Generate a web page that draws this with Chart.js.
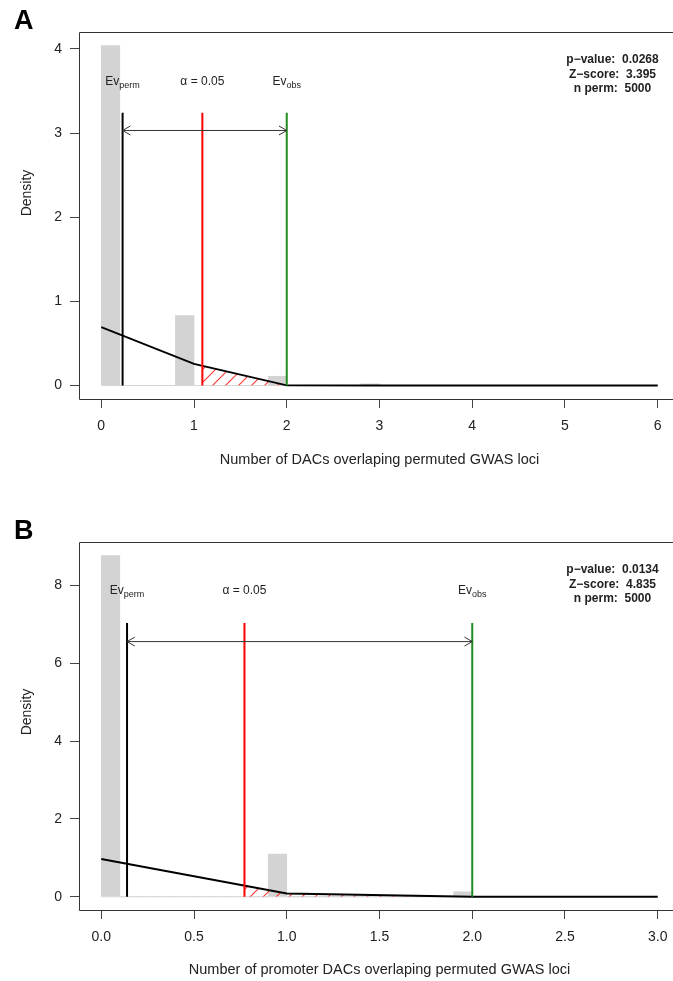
<!DOCTYPE html>
<html><head><meta charset="utf-8">
<script src="https://cdn.jsdelivr.net/npm/chart.js@4.4.1/dist/chart.umd.min.js"></script>
<style>
html,body{margin:0;padding:0;background:#fff;overflow:hidden;width:673px;height:981px;position:relative;}
canvas{position:absolute;left:0;}
#cA{top:0px;} #cB{top:510px;}
</style></head><body>
<canvas id="cA" width="690" height="471" style="width:690px;height:471px"></canvas>
<canvas id="cB" width="690" height="471" style="width:690px;height:471px"></canvas>
<script>
// ---------- Panel A data ----------
const panelLetterA = 'A';
const histStartA = 0;
const binWidthA = 0.2;
const histDensityA = [4.04, 0, 0, 0, 0.83, 0, 0, 0, 0, 0.11, 0, 0, 0, 0, 0.02];
const densityXA = [0, 1, 2, 3, 4, 5, 6];
const densityYA = [0.694, 0.257, 0.002, 0, 0, 0, 0];
const evPermA = 0.23;
const alphaA = 1.09;
const evObsA = 2;
const statsA = ['p\u2212value:  0.0268', 'Z\u2212score:  3.395', 'n perm:  5000'];
const xTicksA = [0, 1, 2, 3, 4, 5, 6];
const xTickLabelsA = ['0', '1', '2', '3', '4', '5', '6'];
const yTicksA = [0, 1, 2, 3, 4];
const yTickLabelsA = ['0', '1', '2', '3', '4'];
const xTitleA = 'Number of DACs overlaping permuted GWAS loci';

// ---------- Panel B data ----------
const panelLetterB = 'B';
const histStartB = 0;
const binWidthB = 0.1;
const histDensityB = [8.77, 0, 0, 0, 0, 0, 0, 0, 0, 1.10, 0, 0, 0, 0, 0, 0, 0, 0, 0, 0.13];
const densityXB = [0, 1, 2, 3];
const densityYB = [0.971, 0.085, 0, 0];
const evPermB = 0.139;
const alphaB = 0.772;
const evObsB = 2;
const statsB = ['p\u2212value:  0.0134', 'Z\u2212score:  4.835', 'n perm:  5000'];
const xTicksB = [0, 0.5, 1, 1.5, 2, 2.5, 3];
const xTickLabelsB = ['0.0', '0.5', '1.0', '1.5', '2.0', '2.5', '3.0'];
const yTicksB = [0, 2, 4, 6, 8];
const yTickLabelsB = ['0', '2', '4', '6', '8'];
const xTitleB = 'Number of promoter DACs overlaping permuted GWAS loci';

const FONT = "'Liberation Sans', Arial, Helvetica, sans-serif";
Chart.defaults.font.family = FONT;
Chart.defaults.color = '#222';

function makeHatch(ctx) {
  const c = document.createElement('canvas');
  c.width = 13; c.height = 13;
  const g = c.getContext('2d');
  g.strokeStyle = 'rgba(255,0,0,0.8)';
  g.lineWidth = 1.1;
  g.beginPath();
  g.moveTo(0, 13); g.lineTo(13, 0);
  g.moveTo(-3, 3); g.lineTo(3, -3);
  g.moveTo(10, 16); g.lineTo(16, 10);
  g.stroke();
  return ctx.createPattern(c, 'repeat');
}

function buildPanel(id, p) {
  const canvas = document.getElementById(id);
  const ctx = canvas.getContext('2d');
  const hatch = makeHatch(ctx);
  const binCenters = p.hist.map((_, i) => p.histStart + (i + 0.5) * p.binWidth);
  const histEnd = p.histStart + p.hist.length * p.binWidth;
  const lineDefaults = {type: 'line', pointRadius: 0, fill: false, tension: 0, showLine: true};
  const datasets = [
    {type: 'bar', data: p.hist.map((v, i) => ({x: binCenters[i], y: v})),
     backgroundColor: '#d3d3d3', borderWidth: 0, barPercentage: 1, categoryPercentage: 1, order: 10},
    Object.assign({}, lineDefaults, {data: [{x: p.histStart, y: 0}, {x: histEnd, y: 0}],
     borderColor: '#d6d6d6', borderWidth: 1, order: 9}),
    Object.assign({}, lineDefaults, {data: p.densX.map((x, i) => ({x: x, y: p.densY[i]})),
     borderColor: '#000', borderWidth: 1.9, order: 6}),
    Object.assign({}, lineDefaults, {data: [{x: p.evPerm, y: 0}, {x: p.evPerm, y: p.lineTop}],
     borderColor: '#000', borderWidth: 2, order: 5}),
    Object.assign({}, lineDefaults, {data: [{x: p.alpha, y: 0}, {x: p.alpha, y: p.lineTop}],
     borderColor: '#ff0000', borderWidth: 2, order: 5}),
    Object.assign({}, lineDefaults, {data: [{x: p.evObs, y: 0}, {x: p.evObs, y: p.lineTop}],
     borderColor: '#1e8c1e', borderWidth: 2, order: 5}),
    Object.assign({}, lineDefaults, {data: [{x: p.evPerm, y: p.arrowY}, {x: p.evObs, y: p.arrowY}],
     borderColor: '#333', borderWidth: 1, order: 4})
  ];
  const DENS = 2, ARROW = 6;

  const annot = {
    id: 'annot' + id,
    beforeDatasetDraw(chart, args) {
      if (args.index !== DENS) return;
      const c = chart.ctx, xs = chart.scales.x, ys = chart.scales.y, a = chart.chartArea;
      const pts = args.meta.data;
      const y0 = ys.getPixelForValue(0);
      c.save();
      c.beginPath();
      c.rect(xs.getPixelForValue(p.alpha), a.top, xs.getPixelForValue(p.evObs) - xs.getPixelForValue(p.alpha), y0 - a.top);
      c.clip();
      c.beginPath();
      c.moveTo(pts[0].x, y0);
      pts.forEach(pt => c.lineTo(pt.x, pt.y));
      c.lineTo(pts[pts.length - 1].x, y0);
      c.closePath();
      c.fillStyle = hatch;
      c.fill();
      c.restore();
    },
    afterDatasetsDraw(chart) {
      const c = chart.ctx, xs = chart.scales.x, ys = chart.scales.y, a = chart.chartArea;
      c.save();
      // box
      c.strokeStyle = '#333'; c.lineWidth = 1;
      c.beginPath();
      c.moveTo(Math.round(a.right) + 0.5, Math.round(a.top) + 0.5);
      c.lineTo(Math.round(a.left) + 0.5, Math.round(a.top) + 0.5);
      c.lineTo(Math.round(a.left) + 0.5, Math.round(a.bottom) + 0.5);
      c.lineTo(Math.round(a.right) + 0.5, Math.round(a.bottom) + 0.5);
      c.stroke();
      // arrow heads
      const am = chart.getDatasetMeta(ARROW).data;
      const L = 9, ang = Math.PI / 6;
      c.strokeStyle = '#333'; c.lineWidth = 1;
      c.beginPath();
      const xl = am[0].x, xr = am[1].x, ya = am[0].y;
      c.moveTo(xl + L * Math.cos(ang), ya - L * Math.sin(ang)); c.lineTo(xl, ya); c.lineTo(xl + L * Math.cos(ang), ya + L * Math.sin(ang));
      c.moveTo(xr - L * Math.cos(ang), ya - L * Math.sin(ang)); c.lineTo(xr, ya); c.lineTo(xr - L * Math.cos(ang), ya + L * Math.sin(ang));
      c.stroke();
      // labels
      const ly = ys.getPixelForValue(p.labelY) + 4;
      c.fillStyle = '#222';
      function subLabel(main, sub, cx) {
        c.font = '12px ' + FONT;
        const w1 = c.measureText(main).width;
        c.font = '9px ' + FONT;
        const w2 = c.measureText(sub).width;
        const x0 = cx - (w1 + w2) / 2;
        c.textAlign = 'left'; c.textBaseline = 'alphabetic';
        c.font = '12px ' + FONT; c.fillText(main, x0, ly);
        c.font = '9px ' + FONT; c.fillText(sub, x0 + w1, ly + 3);
      }
      subLabel('Ev', 'perm', xs.getPixelForValue(p.evPerm));
      subLabel('Ev', 'obs', xs.getPixelForValue(p.evObs));
      c.font = '12px ' + FONT; c.textAlign = 'center'; c.textBaseline = 'alphabetic';
      c.fillText('\u03b1 = 0.05', xs.getPixelForValue(p.alpha), ly);
      // stats
      c.font = 'bold 12px ' + FONT; c.textAlign = 'center'; c.textBaseline = 'middle';
      p.stats.forEach((s, i) => c.fillText(s, 612.5, 59.5 + i * 14.7));
      // panel letter
      c.font = 'bold 27px ' + FONT; c.textAlign = 'left'; c.textBaseline = 'alphabetic';
      c.fillStyle = '#000';
      c.fillText(p.letter, 14, 29);
      // y title
      c.fillStyle = '#222';
      c.translate(27, p.yTitleCenter); c.rotate(-Math.PI / 2);
      c.font = '14px ' + FONT; c.textAlign = 'center'; c.textBaseline = 'middle';
      c.fillText('Density', 0, 0);
      c.restore();
    }
  };

  return new Chart(ctx, {
    type: 'bar',
    data: {datasets: datasets},
    options: {
      responsive: false, animation: false, devicePixelRatio: 1,
      layout: {padding: {top: 32, right: 10, left: 0, bottom: 0}},
      plugins: {legend: {display: false}, tooltip: {enabled: false}},
      scales: {
        x: {type: 'linear', min: p.xMin, max: p.xMax, offset: false,
            grid: {offset: false, drawOnChartArea: false, drawTicks: true, tickLength: 9, color: '#444', tickColor: '#444'},
            border: {display: false},
            afterBuildTicks: s => { s.ticks = p.xTicks.map(v => ({value: v})); },
            afterFit: s => { s.height = p.xAxisH; },
            ticks: {padding: 10, font: {size: 14}, color: '#222', maxRotation: 0, autoSkip: false,
                    callback: (v, i) => p.xTickLabels[i]},
            title: {display: true, text: p.xTitle, font: {size: 14.5}, color: '#222', padding: {top: 0, bottom: 2}}
        },
        y: {type: 'linear', min: p.yMin, max: p.yMax,
            grid: {drawOnChartArea: false, drawTicks: true, tickLength: 9, color: '#444', tickColor: '#444'},
            border: {display: false},
            afterBuildTicks: s => { s.ticks = p.yTicks.map(v => ({value: v})); },
            afterFit: s => { s.width = 79; },
            ticks: {padding: 8, font: {size: 14}, color: '#222', autoSkip: false,
                    callback: (v, i) => p.yTickLabels[i]}
        }
      }
    },
    plugins: [annot]
  });
}

buildPanel('cA', {
  letter: panelLetterA, hist: histDensityA, histStart: histStartA, binWidth: binWidthA,
  densX: densityXA, densY: densityYA, evPerm: evPermA, alpha: alphaA, evObs: evObsA,
  stats: statsA, xTicks: xTicksA, xTickLabels: xTickLabelsA, yTicks: yTicksA, yTickLabels: yTickLabelsA,
  xTitle: xTitleA, xMin: -0.24, xMax: 6.24, yMin: -0.16, yMax: 4.2,
  lineTop: 3.24, arrowY: 3.03, labelY: 3.62, xAxisH: 72, yTitleCenter: 193
});
buildPanel('cB', {
  letter: panelLetterB, hist: histDensityB, histStart: histStartB, binWidth: binWidthB,
  densX: densityXB, densY: densityYB, evPerm: evPermB, alpha: alphaB, evObs: evObsB,
  stats: statsB, xTicks: xTicksB, xTickLabels: xTickLabelsB, yTicks: yTicksB, yTickLabels: yTickLabelsB,
  xTitle: xTitleB, xMin: -0.12, xMax: 3.12, yMin: -0.34, yMax: 9.12,
  lineTop: 7.04, arrowY: 6.56, labelY: 7.89, xAxisH: 71, yTitleCenter: 202
});
</script>
</body></html>
